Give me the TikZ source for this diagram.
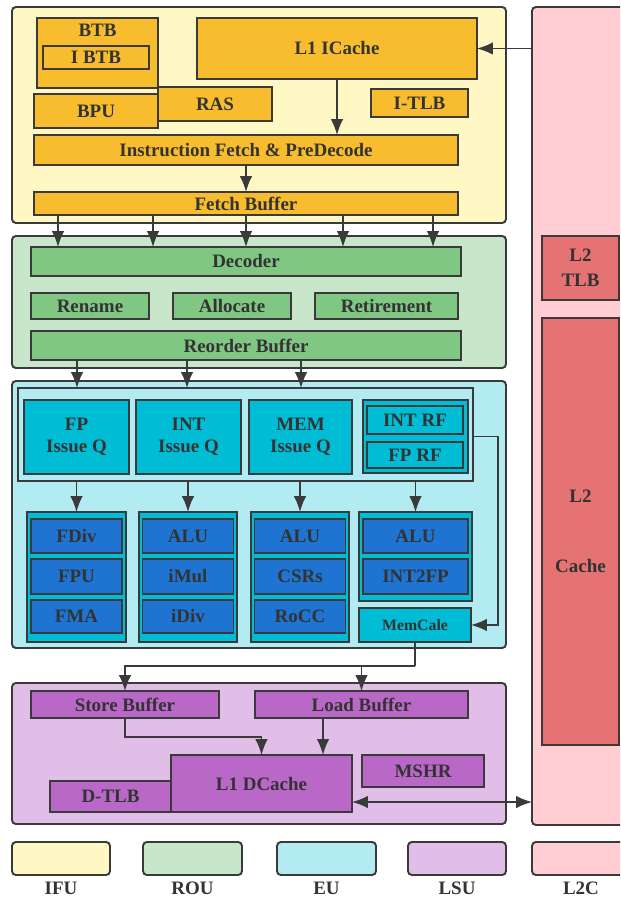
\documentclass[tikz,border=0pt]{standalone}
\usepackage{fontspec}
\setmainfont{Liberation Serif}
\usetikzlibrary{arrows.meta}
\definecolor{edge}{HTML}{3A3A3A}
\definecolor{txt}{HTML}{333333}
\definecolor{ifubg}{HTML}{FFF8C5}
\definecolor{ifufg}{HTML}{F8BD2E}
\definecolor{roubg}{HTML}{C8E6C9}
\definecolor{roufg}{HTML}{81C784}
\definecolor{eubg}{HTML}{B2EBF2}
\definecolor{eufg}{HTML}{00BCD4}
\definecolor{fufg}{HTML}{1E74D0}
\definecolor{lsubg}{HTML}{E1BEE7}
\definecolor{lsufg}{HTML}{BA68C8}
\definecolor{l2cbg}{HTML}{FFCDD2}
\definecolor{l2cfg}{HTML}{E57373}

\begin{document}
\begin{tikzpicture}[x=0.2mm, y=-0.2mm,
	every node/.style={font=\fontsize{10.8}{12.5}\selectfont\bfseries, text=txt, inner sep=0pt, outer sep=0pt},
	sz/.style 2 args={minimum width=#1*0.2mm, minimum height=#2*0.2mm},
	unit/.style={draw=edge, line width=1.1pt, rounded corners=2.2pt},
	blk/.style={draw=edge, line width=1pt},
	tip/.tip={Latex[length=9pt, width=7pt]},
	arr/.style={-tip, draw=edge, line width=0.8pt}]
	\clip (0,0) rectangle (620,902);
	\fill[white] (0,0) rectangle (620,902);
	% outer units
	\node (ifu) at (259,115) [unit, fill=ifubg, sz={494}{216}] {};
	\node (rou) at (259,302) [unit, fill=roubg, sz={494}{132}] {};
	\node (eu) at (259,514.5) [unit, fill=eubg, sz={494}{267}] {};
	\node (lsu) at (259,753.5) [unit, fill=lsubg, sz={494}{141}] {};
	\node (l2c) at (586,416) [unit, fill=l2cbg, sz={108}{818}] {};
	% IFU
	\node (btb) at (97.5,53) [blk, fill=ifufg, sz={121}{70}] {};
	\node (btbt) at (97.5,30) {BTB};
	\node (ibtb) at (96,57.5) [blk, fill=ifufg, sz={106}{23}] {I BTB};
	\node (icache) at (337,48.5) [blk, fill=ifufg, sz={280}{61}] {L1 ICache};
	\node (ras) at (215,104) [blk, fill=ifufg, sz={114}{34}] {RAS};
	\node (bpu) at (96,111) [blk, fill=ifufg, sz={124}{34}] {BPU};
	\node (itlb) at (419.5,103) [blk, fill=ifufg, sz={97}{28}] {I-TLB};
	\node (ifp) at (246,150) [blk, fill=ifufg, sz={424}{30}] {Instruction Fetch \& PreDecode};
	\node (fb) at (246,203.5) [blk, fill=ifufg, sz={424}{23}] {Fetch Buffer};
	% ROU
	\node (dec) at (246,261.5) [blk, fill=roufg, sz={430}{29}] {Decoder};
	\node (ren) at (90,306) [blk, fill=roufg, sz={118}{26}] {Rename};
	\node (alloc) at (232,306) [blk, fill=roufg, sz={118}{26}] {Allocate};
	\node (ret) at (386.5,306) [blk, fill=roufg, sz={143}{26}] {Retirement};
	\node (rob) at (246,345.5) [blk, fill=roufg, sz={430}{29}] {Reorder Buffer};
	% EU
	\node (iss) at (245.5,434.5) [blk, sz={455}{93}] {};
	\node (fpq) at (76.5,437) [blk, fill=eufg, sz={105}{74}, align=center] {FP\\Issue Q};
	\node (intq) at (188.5,437) [blk, fill=eufg, sz={105}{74}, align=center] {INT\\Issue Q};
	\node (memq) at (300.5,437) [blk, fill=eufg, sz={103}{74}, align=center] {MEM\\Issue Q};
	\node (rfc) at (415.5,436.5) [blk, fill=eufg, sz={105}{73}] {};
	\node (intrf) at (415,420) [blk, fill=eufg, sz={96}{28}] {INT RF};
	\node (fprf) at (415,455) [blk, fill=eufg, sz={96}{26}] {FP RF};
	\node (g1) at (76.5,577) [blk, fill=eufg, sz={99}{130}] {};
	\node (g2) at (188,577) [blk, fill=eufg, sz={98}{130}] {};
	\node (g3) at (300,577) [blk, fill=eufg, sz={98}{130}] {};
	\node (g4) at (415.5,556.5) [blk, fill=eufg, sz={113}{89}] {};
	\node (fdiv) at (76.5,536) [blk, fill=fufg, sz={91}{34}] {FDiv};
	\node (fpu) at (76.5,576.5) [blk, fill=fufg, sz={91}{35}] {FPU};
	\node (fma) at (76.5,616.5) [blk, fill=fufg, sz={91}{33}] {FMA};
	\node (alua) at (188,536) [blk, fill=fufg, sz={91}{34}] {ALU};
	\node (imul) at (188,576.5) [blk, fill=fufg, sz={91}{35}] {iMul};
	\node (idiv) at (188,616.5) [blk, fill=fufg, sz={91}{33}] {iDiv};
	\node (alub) at (300,536) [blk, fill=fufg, sz={91}{34}] {ALU};
	\node (csrs) at (300,576.5) [blk, fill=fufg, sz={91}{35}] {CSRs};
	\node (rocc) at (300,616.5) [blk, fill=fufg, sz={91}{33}] {RoCC};
	\node (aluc) at (415.5,536) [blk, fill=fufg, sz={105}{34}] {ALU};
	\node (i2f) at (415.5,576.5) [blk, fill=fufg, sz={105}{35}] {INT2FP};
	\node (memc) at (415,625) [blk, fill=eufg, sz={112}{34}, font=\fontsize{9}{10}\selectfont\bfseries] {MemCale};
	% LSU
	\node (sb) at (125,704.5) [blk, fill=lsufg, sz={188}{27}] {Store Buffer};
	\node (lb) at (361.5,704.5) [blk, fill=lsufg, sz={213}{27}] {Load Buffer};
	\node (dtlb) at (110.5,796.5) [blk, fill=lsufg, sz={121}{31}] {D-TLB};
	\node (dc) at (261.5,783.5) [blk, fill=lsufg, sz={181}{57}] {L1 DCache};
	\node (mshr) at (423,771) [blk, fill=lsufg, sz={122}{32}] {MSHR};
	% L2C
	\node (l2tlb) at (580.5,268) [blk, fill=l2cfg, sz={77}{64}, align=center] {L2\\[1.5pt]TLB};
	\node (l2cache) at (580.5,531.5) [blk, fill=l2cfg, sz={77}{427}, align=center] {L2\\[27pt]Cache};
	% legend
	\node (kifu) at (61,858.5) [unit, fill=ifubg, sz={98}{33}] {};
	\node (krou) at (192.5,858.5) [unit, fill=roubg, sz={99}{33}] {};
	\node (keu) at (326.5,858.5) [unit, fill=eubg, sz={99}{33}] {};
	\node (klsu) at (457,858.5) [unit, fill=lsubg, sz={98}{33}] {};
	\node (kl2c) at (581,858.5) [unit, fill=l2cbg, sz={98}{33}] {};
	\node (tifu) at (61,888) {IFU};
	\node (trou) at (192.5,888) {ROU};
	\node (teu) at (326.5,888) {EU};
	\node (tlsu) at (457,888) {LSU};
	\node (tl2c) at (581,888) {L2C};
	% connections
	\draw[arr] (icache.east -| l2c.west) -- (icache.east);
	\draw[arr] (icache.south) -- (icache.south |- ifp.north);
	\draw[arr] (ifp.south) -- (fb.north);
	\foreach \x in {58,153,246,343,433}
		\draw[arr] (fb.south -| \x,0) -- (dec.north -| \x,0);
	\foreach \x in {77,187,301}
		\draw[arr] (rob.south -| \x,0) -- (iss.north -| \x,0);
	\foreach \g in {g1,g2,g3,g4}
		\draw[arr] (iss.south -| \g.north) -- (\g.north);
	\draw[arr] (iss.east |- rfc.east) -- ++(25,0) |- (memc.east);
	\coordinate (split) at (415,666);
	\draw[arr, -] (memc.south) -- (split);
	\draw[arr] (split) -| (sb.north);
	\draw[arr] (split -| lb.north) -- (lb.north);
	\draw[arr] (sb.south) -- ++(0,19) -| (dc.north);
	\draw[arr] (lb.south -| 323,0) -- (dc.north -| 323,0);
	\draw[arr, tip-tip] (dc.east |- 0,802) -- (l2c.west |- 0,802);
\end{tikzpicture}
\end{document}
